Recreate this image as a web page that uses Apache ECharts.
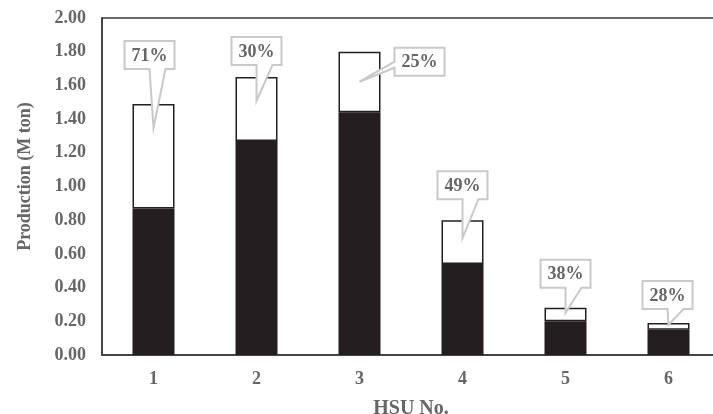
<!DOCTYPE html>
<html>
<head>
<meta charset="utf-8">
<script src="https://cdn.jsdelivr.net/npm/echarts@6/dist/echarts.min.js"></script>
<style>html,body{margin:0;padding:0;background:#fff}#c{width:713px;height:414px}</style>
</head>
<body>
<div id="c"></div>
<script>
// ---- data ----
var categories = ['1', '2', '3', '4', '5', '6'];
var baseValues = [0.87, 1.27, 1.44, 0.54, 0.20, 0.15];      // black part
var addedValues = [0.62, 0.38, 0.36, 0.26, 0.08, 0.04];     // white part
var pctLabels = ['71%', '30%', '25%', '49%', '38%', '28%'];
var yTicks = [0, 2, 0.2];

// ---- callout layout (pixel offsets relative to bar top) ----
var calloutLayout = [
  {dx: -4, dy: -63, tip: 24, side: 'bottom'},
  {dx: 0,  dy: -40, tip: 24, side: 'bottom'},
  {dx: 60, dy: -4,  tip: 30, side: 'left'},
  {dx: 0,  dy: -49, tip: 18, side: 'bottom'},
  {dx: 0,  dy: -48, tip: 5,  side: 'bottom'},
  {dx: -1, dy: -42, tip: 2,  side: 'bottom'}
];

var calloutData = categories.map(function (c, i) {
  return [i, +(baseValues[i] + addedValues[i]).toFixed(3), pctLabels[i]];
});

var FONT = '"Liberation Serif", "Times New Roman", serif';
var chart = echarts.init(document.getElementById('c'));
chart.setOption({
  animation: false,
  grid: {left: 102, top: 18, bottom: 59, right: -7, containLabel: false, outerBoundsMode: 'none',
    show: true, borderColor: '#3a3a3a', borderWidth: 1.5},
  xAxis: {
    type: 'category', data: categories,
    axisTick: {show: false},
    axisLine: {lineStyle: {color: '#3a3a3a', width: 1.5}},
    axisLabel: {margin: 15, color: '#666', fontFamily: FONT, fontWeight: 'bold', fontSize: 18},
    name: 'HSU No.', nameLocation: 'middle', nameGap: 44,
    nameTextStyle: {color: '#666', fontFamily: FONT, fontWeight: 'bold', fontSize: 20}
  },
  yAxis: {
    type: 'value', min: yTicks[0], max: yTicks[1], interval: yTicks[2],
    splitLine: {show: false},
    axisTick: {show: false},
    axisLine: {show: true, lineStyle: {color: '#3a3a3a', width: 1.5}},
    axisLabel: {margin: 16, color: '#666', fontFamily: FONT, fontWeight: 'bold', fontSize: 18,
      formatter: function (v) { return v.toFixed(2); }},
    name: 'Production (M ton)', nameLocation: 'middle', nameGap: 68,
    nameTextStyle: {color: '#666', fontFamily: FONT, fontWeight: 'bold', fontSize: 18, padding: [0, 0, 0, 20]}
  },
  series: [
    {type: 'bar', stack: 'a', data: baseValues, barWidth: 42,
      itemStyle: {color: '#231f20', borderColor: '#231f20', borderWidth: 1.5}},
    {type: 'bar', stack: 'a', data: addedValues, barWidth: 42,
      itemStyle: {color: '#ffffff', borderColor: '#231f20', borderWidth: 1.5}},
    {type: 'custom', data: calloutData, z: 10,
      renderItem: function (params, api) {
        var L = calloutLayout[params.dataIndex];
        var p = api.coord([api.value(0), api.value(1)]);
        var tip = [p[0], p[1] + L.tip];
        var w = 50, h = 28;
        var cx = p[0] + L.dx, top = p[1] + L.dy;
        var left = cx - w / 2, right = cx + w / 2, bottom = top + h;
        var pts;
        if (L.side === 'left') {
          pts = [[left, top], [right, top], [right, bottom], [left, bottom], [left, top + 20], tip, [left, top + 14]];
        } else {
          pts = [[left, top], [right, top], [right, bottom], [cx + 16, bottom], tip, [cx, bottom], [left, bottom]];
        }
        return {
          type: 'group',
          children: [
            {type: 'polygon', shape: {points: pts},
              style: {fill: '#fff', stroke: '#c9c9c9', lineWidth: 2}},
            {type: 'text', style: {text: api.value(2), x: cx, y: top + h / 2 + 1, align: 'center', verticalAlign: 'middle',
              fill: '#666', font: 'bold 18px ' + FONT}}
          ]
        };
      }
    }
  ]
});
</script>
</body>
</html>
